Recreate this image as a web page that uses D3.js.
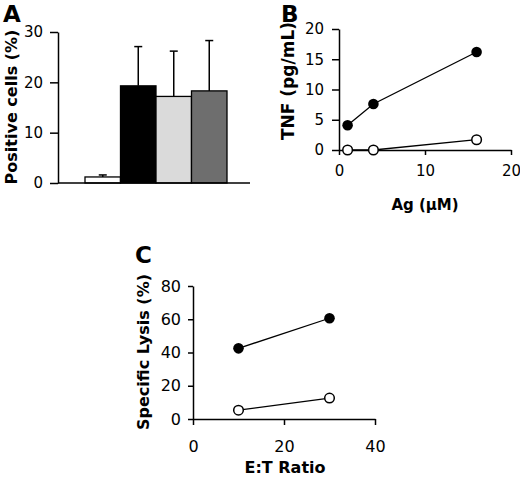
<!DOCTYPE html>
<html lang="en">
<head>
    <meta charset="UTF-8">
    <title>Panels A, B, C</title>
    <script src="https://d3js.org/d3.v7.min.js"></script>
    <style>
        body {
            margin: 0;
            background: white;
        }
        svg text {
            font-family: "DejaVu Sans", Verdana, sans-serif;
            fill: black;
        }
        .axis path, .axis line {
            stroke: black;
            stroke-width: 1.5;
        }
        .axis text {
            font-size: 16px;
        }
        .title {
            font-weight: bold;
        }
        .panel-label {
            font-weight: bold;
            font-size: 23px;
        }
        .line {
            fill: none;
            stroke: black;
            stroke-width: 1.3;
        }
    </style>
</head>
<body>
    <svg width="520" height="483"></svg>

    <script>
        // Panel A: positive cells (%), four groups
        const barGroups = ["control", "group 1", "group 2", "group 3"];
        const barValues = [1.2, 19.3, 17.2, 18.3];
        const barUpper = [1.6, 27.1, 26.2, 28.3];
        const aTicks = [0, 10, 20, 30];

        // Panel B: TNF vs Ag
        const agDose = [1, 4, 16];
        const tnfFilled = [4.1, 7.6, 16.2];
        const tnfOpen = [0, 0, 1.7];
        const bXTicks = [0, 10, 20];
        const bYTicks = [0, 5, 10, 15, 20];

        // Panel C: specific lysis vs E:T ratio
        const etRatio = [10, 30];
        const lysisFilled = [42.5, 60.6];
        const lysisOpen = [5.3, 12.6];
        const cXTicks = [0, 20, 40];
        const cYTicks = [0, 20, 40, 60, 80];

        const barColors = ["#ffffff", "#000000", "#dadada", "#6e6e6e"];

        const svg = d3.select("svg");

        // ---------- Panel A ----------
        const xA = d3.scaleBand().domain(barGroups).range([85, 227]).padding(0);
        const yA = d3.scaleLinear().domain([0, 30]).range([183, 32]);

        svg.append("g")
            .attr("class", "axis")
            .attr("transform", "translate(58,0)")
            .call(d3.axisLeft(yA).tickValues(aTicks).tickSize(8).tickSizeOuter(0).tickPadding(7))
            .selectAll("text").style("font-size", "15px");

        // error bars (behind bars)
        const err = svg.append("g");
        barGroups.forEach((g, i) => {
            const cx = xA(g) + xA.bandwidth() / 2;
            err.append("line")
                .attr("x1", cx).attr("x2", cx)
                .attr("y1", yA(barValues[i])).attr("y2", yA(barUpper[i]))
                .attr("stroke", "black").attr("stroke-width", 1.5);
            err.append("line")
                .attr("x1", cx - 4).attr("x2", cx + 4)
                .attr("y1", yA(barUpper[i])).attr("y2", yA(barUpper[i]))
                .attr("stroke", "black").attr("stroke-width", 1.5);
        });

        svg.selectAll(".bar")
            .data(barValues)
            .enter().append("rect")
            .attr("class", "bar")
            .attr("x", (d, i) => xA(barGroups[i]))
            .attr("y", d => yA(d))
            .attr("width", xA.bandwidth())
            .attr("height", d => yA(0) - yA(d))
            .attr("fill", (d, i) => barColors[i])
            .attr("stroke", "black")
            .attr("stroke-width", 1.3);

        // baseline of panel A
        svg.append("line")
            .attr("x1", 58).attr("x2", 250)
            .attr("y1", yA(0)).attr("y2", yA(0))
            .attr("stroke", "black").attr("stroke-width", 1.5);

        svg.append("text")
            .attr("class", "title")
            .attr("transform", "rotate(-90)")
            .attr("x", -107)
            .attr("y", 17)
            .attr("text-anchor", "middle")
            .style("font-size", "16px")
            .text("Positive cells (%)");

        svg.append("text")
            .attr("class", "panel-label")
            .attr("x", 3)
            .attr("y", 22)
            .text("A");

        // ---------- Panel B ----------
        const xB = d3.scaleLinear().domain([0, 20]).range([339, 511]);
        const yB = d3.scaleLinear().domain([0, 20]).range([150, 29]);

        svg.append("g")
            .attr("class", "axis")
            .attr("transform", "translate(0,150)")
            .call(d3.axisBottom(xB).tickValues(bXTicks).tickSize(5).tickSizeOuter(0).tickPadding(10))
            .selectAll("text").style("font-size", "15px");

        svg.append("g")
            .attr("class", "axis")
            .attr("transform", "translate(339,0)")
            .call(d3.axisLeft(yB).tickValues(bYTicks).tickSize(7).tickSizeOuter(0).tickPadding(8))
            .selectAll("text").style("font-size", "15px");

        const lineB = d3.line().x((d, i) => xB(agDose[i])).y(d => yB(d));
        svg.append("path").datum(tnfFilled).attr("class", "line").attr("d", lineB);
        svg.append("path").datum(tnfOpen).attr("class", "line").attr("d", lineB);

        svg.selectAll(".b-filled")
            .data(tnfFilled)
            .enter().append("circle")
            .attr("class", "b-filled")
            .attr("cx", (d, i) => xB(agDose[i]))
            .attr("cy", d => yB(d))
            .attr("r", 5.3)
            .attr("fill", "black");

        svg.selectAll(".b-open")
            .data(tnfOpen)
            .enter().append("circle")
            .attr("class", "b-open")
            .attr("cx", (d, i) => xB(agDose[i]))
            .attr("cy", d => yB(d))
            .attr("r", 4.8)
            .attr("fill", "white")
            .attr("stroke", "black")
            .attr("stroke-width", 1.5);

        svg.append("text")
            .attr("class", "title")
            .attr("transform", "rotate(-90)")
            .attr("x", -81)
            .attr("y", 294)
            .attr("text-anchor", "middle")
            .style("font-size", "17px")
            .text("TNF (pg/mL)");

        svg.append("text")
            .attr("class", "title")
            .attr("x", 425)
            .attr("y", 210)
            .attr("text-anchor", "middle")
            .style("font-size", "15px")
            .text("Ag (\u03BCM)");

        svg.append("text")
            .attr("class", "panel-label")
            .attr("x", 281)
            .attr("y", 22)
            .text("B");

        // ---------- Panel C ----------
        const xC = d3.scaleLinear().domain([0, 40]).range([193, 375]);
        const yC = d3.scaleLinear().domain([0, 80]).range([419, 286]);

        svg.append("g")
            .attr("class", "axis")
            .attr("transform", "translate(0,419)")
            .call(d3.axisBottom(xC).tickValues(cXTicks).tickSize(6).tickSizeOuter(0).tickPadding(16))
            .selectAll("text").style("font-size", "16px");

        svg.append("g")
            .attr("class", "axis")
            .attr("transform", "translate(193,0)")
            .call(d3.axisLeft(yC).tickValues(cYTicks).tickSize(5).tickSizeOuter(0).tickPadding(7))
            .selectAll("text").style("font-size", "16px");

        const lineC = d3.line().x((d, i) => xC(etRatio[i])).y(d => yC(d));
        svg.append("path").datum(lysisFilled).attr("class", "line").attr("d", lineC);
        svg.append("path").datum(lysisOpen).attr("class", "line").attr("d", lineC);

        svg.selectAll(".c-filled")
            .data(lysisFilled)
            .enter().append("circle")
            .attr("class", "c-filled")
            .attr("cx", (d, i) => xC(etRatio[i]))
            .attr("cy", d => yC(d))
            .attr("r", 5.3)
            .attr("fill", "black");

        svg.selectAll(".c-open")
            .data(lysisOpen)
            .enter().append("circle")
            .attr("class", "c-open")
            .attr("cx", (d, i) => xC(etRatio[i]))
            .attr("cy", d => yC(d))
            .attr("r", 4.8)
            .attr("fill", "white")
            .attr("stroke", "black")
            .attr("stroke-width", 1.5);

        svg.append("text")
            .attr("class", "title")
            .attr("transform", "rotate(-90)")
            .attr("x", -352)
            .attr("y", 149)
            .attr("text-anchor", "middle")
            .style("font-size", "16px")
            .text("Specific Lysis (%)");

        svg.append("text")
            .attr("class", "title")
            .attr("x", 285)
            .attr("y", 473)
            .attr("text-anchor", "middle")
            .style("font-size", "16px")
            .text("E:T Ratio");

        svg.append("text")
            .attr("class", "panel-label")
            .attr("x", 135)
            .attr("y", 263)
            .text("C");
    </script>
</body>
</html>
